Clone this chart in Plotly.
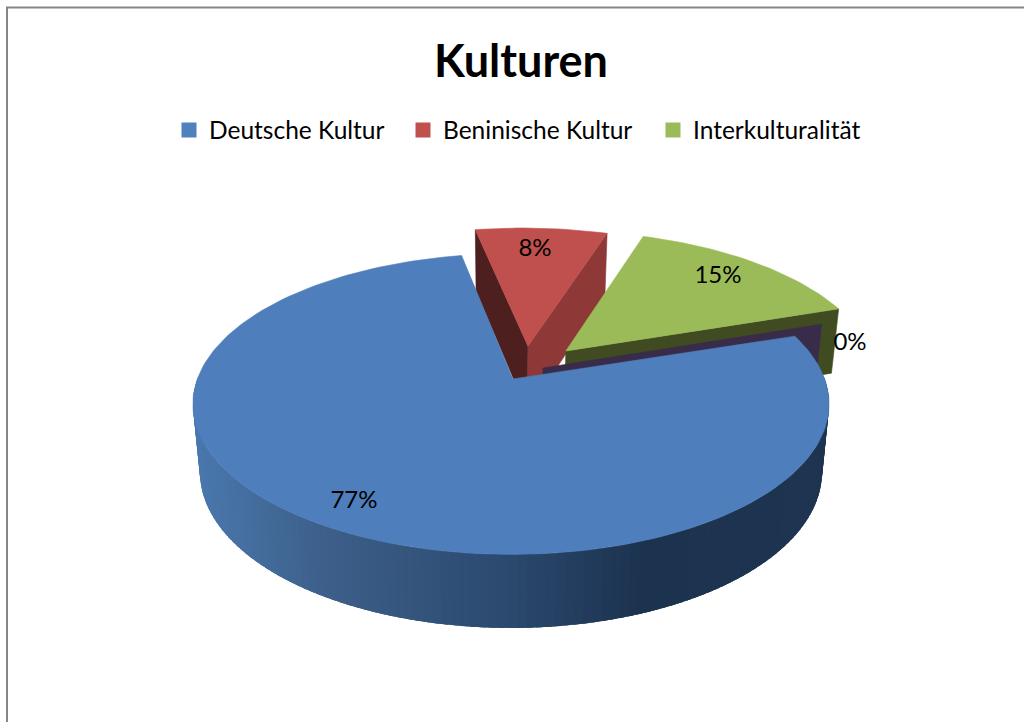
import math
import plotly.graph_objects as go

# ---- data ----
categories = ["Deutsche Kultur", "Beninische Kultur", "Interkulturalität", ""]
values = [77.3, 8.0, 14.7, 0.0]
title_text = "Kulturen"

# ---- styling / projection of the 3D pie ----
top_colors = ["#4e7ebb", "#c0504d", "#9bbb59", "#8064a2"]
legend_colors = ["#4f81bd", "#c0504d", "#9bbb59"]
legend_left = [169, 403, 653]
left_wall = {1: "#4d1f1e", 2: "#404b21", 3: "#392c4a"}
right_wall = {1: "#8e3938"}
offsets = [(0.0, -0.007), (0.046, 0.233), (0.18, 0.204), (0.103, 0.083)]
apex_offsets = [(0.006, 0.007), (0.056, 0.24), (0.18, 0.204), (0.103, 0.083)]
start_deg = 71.3  # first slice begins here, running clockwise
label_xy = [(354, 502), (535, 250), (718, 277), (850, 344)]
X0, Y0, A, P, BX = 511, 380, 146.5, 0.153, 314
Y0B, AB, SB = 447, 152, 0.978
FONT = "Lato"
LABEL_SIZE = 24


def top(u, v):
    w = 1 + P * v
    return X0 + BX * u / w, Y0 - A * v / w


def bottom(u, v):
    w = 1 + P * v
    return X0 + SB * BX * u / w, Y0B - AB * v / w


def polar(t):
    r = math.radians(t)
    return math.sin(r), math.cos(r)


total = sum(values)
angles = []
a = start_deg
for val in values:
    b = a + 360 * val / total
    angles.append((a, b))
    a = b

fig = go.Figure()


def poly(pts, color, width=0.6):
    fig.add_trace(go.Scatter(
        x=[p[0] for p in pts] + [pts[0][0]],
        y=[p[1] for p in pts] + [pts[0][1]],
        mode="lines", fill="toself", fillcolor=color,
        line=dict(color=color, width=width),
        showlegend=False, hoverinfo="skip"))


def sector(i, n=None):
    a0, a1 = angles[i]
    ou, ov = offsets[i]
    n = n or max(2, int((a1 - a0) / 1.5))
    pts = [top(*apex_offsets[i])]
    for k in range(n + 1):
        su, sv = polar(a0 + (a1 - a0) * k / n)
        pts.append(top(ou + su, ov + sv))
    return pts


def radial_wall(i, t):
    ou, ov = offsets[i]
    au, av = apex_offsets[i]
    su, sv = polar(t)
    return [top(au, av), top(ou + su, ov + sv),
            bottom(ou + su, ov + sv), bottom(au, av)]


# red slice
poly(radial_wall(1, angles[1][0]), left_wall[1])
poly(radial_wall(1, angles[1][1]), right_wall[1])
poly(sector(1), top_colors[1])
# green slice
poly(radial_wall(2, angles[2][1]), left_wall[2])
poly(sector(2), top_colors[2])
# zero slice: only its wall can be seen
poly(radial_wall(3, angles[3][0]), left_wall[3])

# blue outer wall, shaded strip by strip; strips overlap so no seams show
stops = [(193, (74, 120, 173)), (330, (60, 94, 136)), (500, (44, 74, 112)),
         (640, (28, 51, 80)), (830, (30, 52, 80))]


def shade(x):
    for (x1, c1), (x2, c2) in zip(stops, stops[1:]):
        if x <= x2:
            f = max(0, (x - x1) / (x2 - x1))
            return "rgb(%d,%d,%d)" % tuple(round(p + (q - p) * f) for p, q in zip(c1, c2))
    return "rgb(%d,%d,%d)" % stops[-1][1]


ou, ov = offsets[0]
t = 272.0
while t > 88:
    t2 = t - 1.5
    t3 = t - 4
    su, sv = polar(t)
    su3, sv3 = polar(t3)
    su2, sv2 = polar(t2)
    p1 = top(ou + su, ov + sv)
    p2 = top(ou + su3, ov + sv3)
    pm = top(ou + su2, ov + sv2)
    # the base sits 2 px lower, following the shifted blue disc
    p3 = bottom(ou + su3, ov + sv3)
    p4 = bottom(ou + su, ov + sv)
    fig.add_trace(go.Scatter(
        x=[p1[0], p2[0], p3[0], p4[0], p1[0]],
        y=[p1[1], p2[1], p3[1], p4[1], p1[1]],
        mode="none", fill="toself", fillcolor=shade((p1[0] + pm[0]) / 2),
        showlegend=False, hoverinfo="skip"))
    t = t2

# blue top
poly(sector(0), top_colors[0])

# legend entries, one legend each so they sit where the reference has them
legends = {}
for i, (name, col, left) in enumerate(zip(categories[:3], legend_colors, legend_left)):
    key = "legend" if i == 0 else f"legend{i + 1}"
    fig.add_trace(go.Scatter(x=[None], y=[None], mode="markers", name=name, legend=key,
                             marker=dict(symbol="square", size=15, color=col)))
    legends[key] = dict(orientation="h", x=left / 1024, xanchor="left",
                        y=1 - 130 / 722, yanchor="middle",
                        font=dict(family=FONT, size=24.5, color="#000000"),
                        bgcolor="rgba(0,0,0,0)")

# data labels
fig.add_trace(go.Scatter(
    x=[p[0] for p in label_xy], y=[p[1] for p in label_xy],
    mode="text", text=[f"{round(v)}%" for v in values],
    textposition="middle center",
    textfont=dict(family=FONT, size=LABEL_SIZE, color="#000000"),
    showlegend=False, hoverinfo="skip"))

fig.update_layout(
    width=1024, height=722,
    margin=dict(l=0, r=0, t=0, b=0),
    paper_bgcolor="white", plot_bgcolor="white",
    title=dict(text=f"<b>{title_text}</b>", x=521 / 1024, xanchor="center",
               y=1 - 61 / 722, yanchor="middle",
               font=dict(family=FONT, size=45, color="#000000")),
    xaxis=dict(range=[0, 1024], visible=False, fixedrange=True),
    yaxis=dict(range=[722, 0], visible=False, fixedrange=True),
    shapes=[dict(type="path", xref="x", yref="y",
                 path="M 7 722 L 7 7.5 L 1024 7.5",
                 line=dict(color="#868686", width=2))],
    **legends,
)
fig.write_html("out.html", config={"displayModeBar": False}, post_script=(
    "document.body.style.margin='0';document.body.style.overflow='hidden';"))
